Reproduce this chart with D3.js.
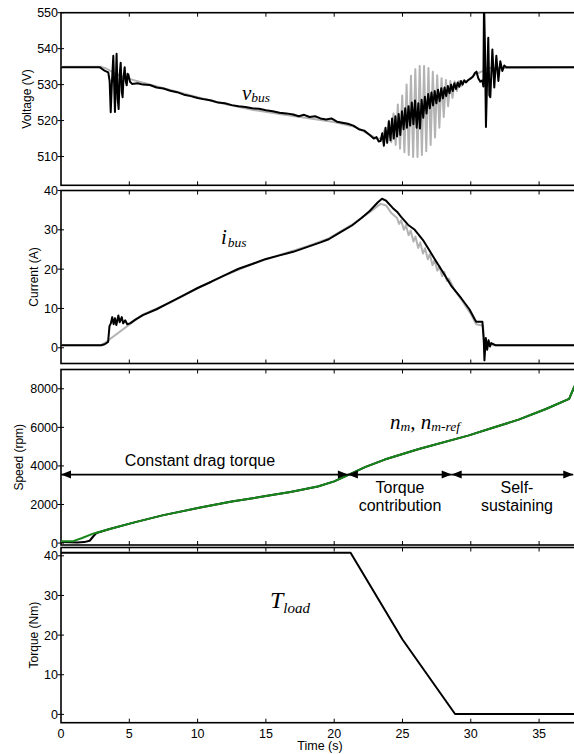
<!DOCTYPE html>
<html>
<head>
<meta charset="utf-8">
<script src="https://cdn.jsdelivr.net/npm/d3@7"></script>
<style>
  body { margin: 0; background: #fff; }
  text { font-family: "Liberation Sans", Arial, sans-serif; fill: #000; }
  .math { font-family: "Liberation Serif", "Times New Roman", serif; font-style: italic; }
</style>
</head>
<body>
<div id="visContainer"></div>
<script>
// tick values
const timeTicks = [0, 5, 10, 15, 20, 25, 30, 35];
const voltTicks = [510, 520, 530, 540, 550];
const currentTicks = [0, 10, 20, 30, 40];
const speedTicks = [0, 2000, 4000, 6000, 8000];
const torqueTicks = [0, 10, 20, 30, 40];

// bus voltage, measured (black) [t, V]
const vBusMeas = [
  [0, 534.8], [2.85, 534.8], [3.22, 533.8], [3.46, 533.4], [3.56, 531], [3.64, 522.3], [3.72, 530],
  [3.83, 538], [3.95, 522.4], [4.07, 538.6], [4.15, 526], [4.22, 523.2], [4.3, 533], [4.37, 536.1],
  [4.45, 528], [4.51, 526.5], [4.58, 532], [4.66, 534.8], [4.74, 531], [4.81, 529.8], [4.88, 533],
  [4.93, 532.8], [5.05, 530.8], [5.2, 530.2], [5.6, 530.4], [6.0, 530.0], [6.5, 529.9], [7.0, 529.2],
  [7.5, 528.9], [8.0, 528.3], [8.5, 527.9], [9.0, 527.2], [9.5, 526.8], [10.0, 526.3], [10.5, 525.9],
  [11.0, 525.6], [11.5, 525.0], [12.0, 524.8], [12.5, 524.3], [13.0, 524.0], [13.5, 523.8], [14.0, 523.4],
  [14.5, 523.3], [15.0, 522.9], [15.5, 522.6], [16.0, 522.2], [16.5, 522.0], [17.0, 521.7], [17.4, 521.2],
  [17.8, 521.6], [18.2, 521.0], [18.6, 521.2], [19.0, 520.6], [19.4, 520.3], [19.8, 520.6], [20.2, 519.7],
  [20.6, 519.4], [21.0, 519.1], [21.4, 518.6], [21.8, 517.6], [22.2, 517.2], [22.6, 516.0], [22.9, 515.0],
  [23.1, 515.4], [23.25, 514.2], [23.4, 514.3], [23.52, 516.5], [23.64, 513.0], [23.76, 518.0],
  [23.88, 513.8], [24.0, 519.8], [24.12, 514.5], [24.24, 520.6], [24.36, 515.0], [24.48, 521.2],
  [24.6, 515.6], [24.72, 521.8], [24.84, 516.0], [24.96, 522.6], [25.08, 517.6], [25.2, 523.4],
  [25.32, 518.0], [25.44, 524.0], [25.56, 518.6], [25.68, 525.0], [25.8, 519.0], [25.92, 525.6],
  [26.04, 518.0], [26.16, 524.8], [26.28, 517.8], [26.4, 525.8], [26.52, 520.8], [26.64, 526.6],
  [26.76, 522.0], [26.88, 527.4], [27.0, 523.4], [27.12, 527.8], [27.24, 524.2], [27.36, 528.2],
  [27.48, 524.8], [27.6, 528.6], [27.72, 525.4], [27.84, 529.0], [27.96, 526.2], [28.08, 529.2],
  [28.2, 526.8], [28.32, 529.6], [28.44, 527.6], [28.56, 530.0], [28.68, 528.2], [28.8, 530.4],
  [28.92, 528.8], [29.04, 530.6], [29.16, 529.4], [29.28, 531.0], [29.4, 530.0], [29.52, 531.2],
  [29.64, 530.6], [29.8, 531.2], [29.95, 531.6], [30.15, 532.2], [30.3, 533.2], [30.42, 533.6],
  [30.55, 531.8], [30.7, 530.8], [30.85, 531.2], [30.92, 529.5], [30.97, 553], [31.04, 540],
  [31.11, 518.2], [31.2, 532], [31.28, 543], [31.36, 527], [31.43, 526.5], [31.58, 539.8],
  [31.72, 529.2], [31.87, 538.0], [32.02, 531.0], [32.16, 536.5], [32.31, 533.8], [32.45, 535.3],
  [32.6, 534.8], [37.6, 534.8]
];

// bus voltage, simulated (grey) [t, V]
const vBusSim = [
  [0, 535.0], [2.9, 535.0], [3.3, 534.5], [4.0, 533.0], [4.8, 531.8], [6.0, 530.5], [8.0, 528.5],
  [10.0, 526.5], [12.0, 524.6], [14.0, 523.0], [16.0, 521.8], [18.0, 520.7], [20.0, 519.6],
  [21.5, 518.3], [22.5, 516.3], [23.2, 514.8], [23.5, 515.4], [23.7, 517.5], [23.86, 514.5],
  [24.02, 520.0], [24.18, 514.0], [24.34, 522.0], [24.5, 513.2], [24.66, 524.5], [24.82, 512.2],
  [24.98, 527.0], [25.14, 511.2], [25.3, 530.0], [25.46, 510.4], [25.62, 532.5], [25.78, 509.9],
  [25.94, 534.3], [26.1, 509.9], [26.26, 535.2], [26.42, 510.4], [26.58, 535.2], [26.74, 511.5],
  [26.9, 534.6], [27.06, 513.2], [27.22, 533.6], [27.38, 515.3], [27.54, 532.6], [27.7, 518.0],
  [27.86, 531.8], [28.02, 521.0], [28.18, 531.3], [28.34, 524.0], [28.5, 531.0], [28.66, 526.3],
  [28.82, 530.9], [28.98, 528.2], [29.14, 531.0], [29.3, 529.6], [29.46, 531.0], [29.62, 530.8],
  [30.0, 531.8], [30.3, 532.8], [30.6, 533.3], [30.9, 533.8], [31.2, 534.6], [37.6, 534.8]
];

// bus current, measured (black) [t, A]
const iBusMeas = [
  [0, 0.65], [2.95, 0.65], [3.2, 0.9], [3.45, 1.5], [3.55, 5.5], [3.65, 6.2], [3.75, 7.8], [3.85, 6.0],
  [3.95, 7.5], [4.05, 5.8], [4.2, 8.2], [4.3, 6.5], [4.45, 7.8], [4.55, 6.2], [4.7, 7.0], [4.85, 6.0],
  [5.05, 6.2], [5.5, 7.3], [6, 8.3], [7, 9.8], [8, 11.6], [9, 13.4], [10, 15.2], [11, 16.8], [12, 18.5],
  [13, 20.1], [14, 21.3], [15, 22.6], [16, 23.5], [17, 24.4], [18, 25.6], [19, 26.8], [19.6, 27.6],
  [20.5, 29.5], [21.3, 31.1], [22, 33], [22.6, 34.8], [23.2, 37], [23.5, 37.9], [23.8, 37.4],
  [24.3, 35.5], [24.6, 34.6], [24.9, 33.3], [25.4, 31.3], [25.9, 30.0], [26.5, 27.4], [27, 24.6],
  [27.4, 22.3], [28, 19], [28.6, 15.6], [29.3, 12.6], [29.9, 9.8], [30.3, 7.2], [30.4, 6.6],
  [30.85, 6.6], [30.95, 2.0], [31.0, -3.2], [31.1, 2.5], [31.2, -0.5], [31.3, 1.9], [31.4, 0.3],
  [31.5, 1.2], [31.8, 0.65], [37.6, 0.65]
];

// bus current, simulated (grey) [t, A]
const iBusSim = [
  [0, 0.65], [2.9, 0.65], [3.2, 1.2], [6, 8.5], [8, 11.5], [10, 15.1], [12, 18.4], [14, 21.3],
  [16, 23.6], [18, 25.8], [19.6, 27.8], [21.3, 31.3], [22.6, 34.5], [23.4, 36.6], [23.8, 36.2],
  [24.2, 34.2], [24.6, 33.0], [24.75, 31.5], [24.9, 32.4], [25.1, 30.0], [25.25, 31.2], [25.45, 28.6],
  [25.6, 29.8], [25.8, 27.0], [25.95, 28.3], [26.15, 25.4], [26.3, 26.8], [26.5, 24.0], [26.65, 25.3],
  [26.85, 22.5], [27.0, 23.8], [27.2, 21.0], [27.35, 22.3], [27.55, 19.6], [27.7, 20.8], [27.9, 18.2],
  [28.05, 19.3], [28.25, 17.0], [28.4, 17.6], [28.8, 14.8], [29.4, 11.8], [30.0, 8.6], [30.4, 6.0],
  [30.9, 5.6], [31.0, -1.0], [31.2, 1.5], [31.6, 0.65], [37.6, 0.65]
];

// speed reference (green) and measured (black) [t, rpm]
const speedRef = [
  [0, 100], [0.9, 100], [1.5, 250], [2.4, 500], [3.5, 720], [5.3, 1060], [7.5, 1450], [10.2, 1840],
  [12.5, 2150], [15.1, 2450], [16.8, 2650], [18.8, 2930], [20, 3200], [21.0, 3520], [22.3, 3950],
  [23.7, 4330], [26.2, 4880], [29.8, 5570], [31.5, 5950], [33.5, 6400], [35.5, 6950], [37.2, 7480],
  [37.6, 8150]
];
const speedMeas = [
  [0, 50], [1.2, 30], [1.7, 50], [2.1, 120], [2.4, 380], [2.6, 520], [3.5, 720], [5.3, 1060],
  [7.5, 1450], [10.2, 1840], [12.5, 2150], [15.1, 2450], [16.8, 2650], [18.8, 2930], [20, 3200],
  [21.0, 3520], [22.3, 3950], [23.7, 4330], [26.2, 4880], [29.8, 5570], [31.5, 5950], [33.5, 6400],
  [35.5, 6950], [37.2, 7480], [37.6, 8150]
];

// load torque [t, Nm]
const torqueLoad = [[0, 40.75], [21.2, 40.75], [25.0, 18.9], [28.85, 0.1], [37.6, 0.1]];

// operating phases shown on the speed panel
const phaseBounds = [0, 21.0, 28.6, 37.5];
const phaseArrowSpeed = 3550;

const width = 574;
const height = 754;

const svg = d3
  .select("#visContainer")
  .append("svg")
  .attr("width", width)
  .attr("height", height);

const xScale = d3.scaleLinear().domain([0, 37.6]).range([61, 574.6]);

const panels = [
  { id: "p1", top: 12.7, bottom: 185.3, domain: [502, 550], ticks: voltTicks, label: "Voltage (V)", labelX: 31 },
  { id: "p2", top: 190.5, bottom: 363.5, domain: [-4, 40], ticks: currentTicks, label: "Current (A)", labelX: 38 },
  { id: "p3", top: 369.5, bottom: 545, domain: [-100, 9000], ticks: speedTicks, label: "Speed (rpm)", labelX: 22.5 },
  { id: "p4", top: 547.5, bottom: 722.7, domain: [-2.1, 42.1], ticks: torqueTicks, label: "Torque (Nm)", labelX: 37.5 }
];

panels.forEach((p) => {
  p.y = d3.scaleLinear().domain(p.domain).range([p.bottom, p.top]);

  svg.append("clipPath").attr("id", "clip-" + p.id)
    .append("rect")
    .attr("x", 61).attr("y", p.top)
    .attr("width", 520).attr("height", p.bottom - p.top);

  const g = svg.append("g");
  p.plot = svg.append("g").attr("clip-path", `url(#clip-${p.id})`);

  // frame
  g.append("rect")
    .attr("x", 61).attr("y", p.top)
    .attr("width", 520).attr("height", p.bottom - p.top)
    .attr("fill", "none").attr("stroke", "#000").attr("stroke-width", 1.6);

  // x ticks (inside, top and bottom)
  g.selectAll(".xt")
    .data(timeTicks.filter((d) => d > 0))
    .join("path")
    .attr("d", (d) => `M${xScale(d)},${p.top}v4M${xScale(d)},${p.bottom}v-4`)
    .attr("stroke", "#000").attr("stroke-width", 1);

  // y ticks + labels
  g.selectAll(".yt")
    .data(p.ticks)
    .join("path")
    .attr("d", (d) => `M57.5,${p.y(d)}H64`)
    .attr("stroke", "#000").attr("stroke-width", 1);

  g.selectAll(".yl")
    .data(p.ticks)
    .join("text")
    .attr("x", 58)
    .attr("y", (d) => p.y(d) + 4.5)
    .attr("text-anchor", "end")
    .attr("font-size", 12.5)
    .text((d) => d);

  g.append("text")
    .attr("transform", `translate(${p.labelX},${(p.top + p.bottom) / 2}) rotate(-90)`)
    .attr("text-anchor", "middle")
    .attr("font-size", 12)
    .text(p.label);
});

// x tick labels on bottom panel
svg.selectAll(".xl")
  .data(timeTicks)
  .join("text")
  .attr("x", (d) => xScale(d))
  .attr("y", 737.5)
  .attr("text-anchor", "middle")
  .attr("font-size", 12.5)
  .text((d) => d);

svg.append("text")
  .attr("x", 320).attr("y", 750)
  .attr("text-anchor", "middle")
  .attr("font-size", 12.5)
  .text("Time (s)");

function drawLine(p, data, color, w) {
  const line = d3.line().x((d) => xScale(d[0])).y((d) => p.y(d[1]));
  p.plot.append("path")
    .datum(data)
    .attr("d", line)
    .attr("fill", "none")
    .attr("stroke", color)
    .attr("stroke-width", w)
    .attr("stroke-linejoin", "round");
}

const [pV, pI, pN, pT] = panels;

drawLine(pV, vBusSim, "#b3b3b3", 2);
drawLine(pV, vBusMeas, "#000", 2);
drawLine(pI, iBusSim, "#b3b3b3", 2);
drawLine(pI, iBusMeas, "#000", 2);
drawLine(pN, speedMeas, "#000", 2);
drawLine(pN, speedRef, "#17871b", 2);
drawLine(pT, torqueLoad, "#000", 2);

// phase arrows
const ay = pN.y(phaseArrowSpeed);
const segs = d3.pairs(phaseBounds);
svg.selectAll(".seg")
  .data(segs)
  .join("line")
  .attr("x1", (d) => xScale(d[0])).attr("x2", (d) => xScale(d[1]))
  .attr("y1", ay).attr("y2", ay)
  .attr("stroke", "#000").attr("stroke-width", 1.6);

const heads = segs.flatMap((d) => [{ x: xScale(d[0]), dir: -1 }, { x: xScale(d[1]), dir: 1 }]);
svg.selectAll(".head")
  .data(heads)
  .join("path")
  .attr("d", (d) => `M${d.x},${ay}L${d.x - d.dir * 10},${ay - 4}L${d.x - d.dir * 10},${ay + 4}Z`)
  .attr("fill", "#000");

svg.append("text").attr("x", 200).attr("y", 466).attr("text-anchor", "middle")
  .attr("font-size", 16).text("Constant drag torque");
svg.append("text").attr("x", 400).attr("y", 493).attr("text-anchor", "middle")
  .attr("font-size", 16).text("Torque");
svg.append("text").attr("x", 400).attr("y", 510.5).attr("text-anchor", "middle")
  .attr("font-size", 16).text("contribution");
svg.append("text").attr("x", 517).attr("y", 493).attr("text-anchor", "middle")
  .attr("font-size", 16).text("Self-");
svg.append("text").attr("x", 517).attr("y", 510.5).attr("text-anchor", "middle")
  .attr("font-size", 16).text("sustaining");

// italic signal names
const vLab = svg.append("text").attr("class", "math").attr("x", 242).attr("y", 100);
vLab.append("tspan").attr("font-size", 21).text("v");
vLab.append("tspan").attr("font-size", 13.5).attr("dy", 2).text("bus");

const iLab = svg.append("text").attr("class", "math").attr("x", 221).attr("y", 243.5);
iLab.append("tspan").attr("font-size", 21).text("i");
iLab.append("tspan").attr("font-size", 13.5).attr("dy", 3).attr("dx", 1).text("bus");

const nLab = svg.append("text").attr("class", "math").attr("x", 390).attr("y", 428.5);
nLab.append("tspan").attr("font-size", 21).text("n");
nLab.append("tspan").attr("font-size", 13.5).attr("dy", 2).text("m");
nLab.append("tspan").attr("font-size", 21).attr("dy", -2).text(", n");
nLab.append("tspan").attr("font-size", 13.5).attr("dy", 2).text("m-ref");

const tLab = svg.append("text").attr("class", "math").attr("x", 270).attr("y", 608);
tLab.append("tspan").attr("font-size", 24).text("T");
tLab.append("tspan").attr("font-size", 15).attr("dy", 5).text("load");
</script>
</body>
</html>
